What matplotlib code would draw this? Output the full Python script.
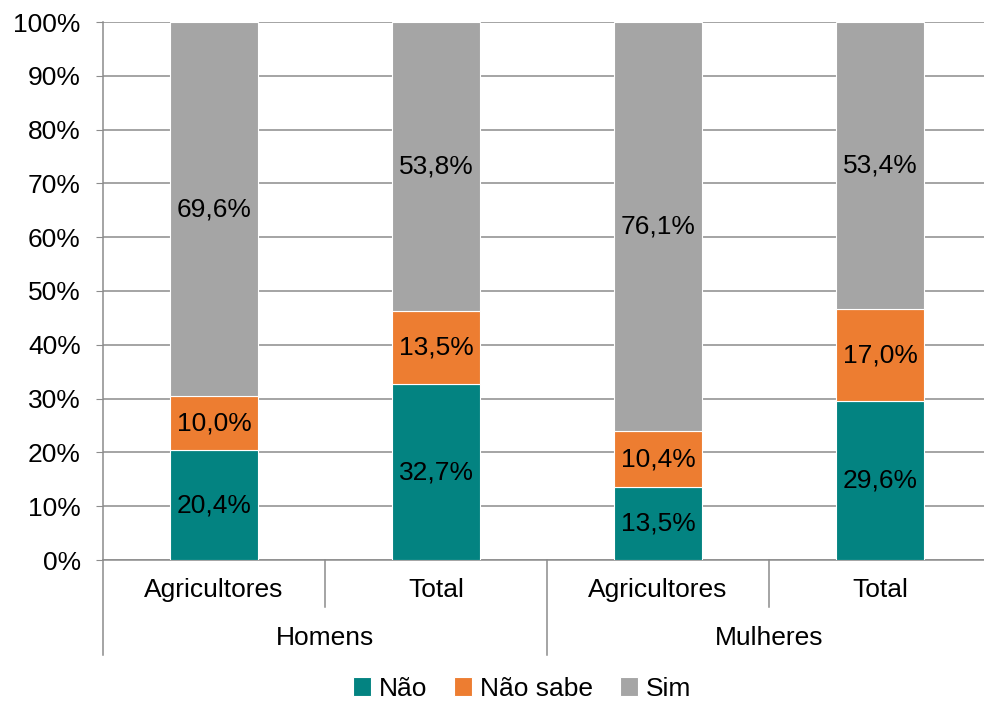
import numpy as np
import matplotlib.pyplot as plt

plt.rcParams['font.family'] = ['Liberation Sans', 'DejaVu Sans']

# Data
categories = ['Agricultores', 'Total', 'Agricultores', 'Total']
groups = ['Homens', 'Mulheres']
nao = [20.4, 32.7, 13.5, 29.6]
nao_sabe = [10.0, 13.5, 10.4, 17.0]
sim = [69.6, 53.8, 76.1, 53.4]
series_names = ['Não', 'Não sabe', 'Sim']
colors = ['#038381', '#ED7D31', '#A5A5A5']
grid_color = '#8C8C8C'
fs = 19

fig = plt.figure(figsize=(9.84, 7.01), dpi=100)
ax = fig.add_axes([103 / 984, 141 / 701, 888 / 984, 538 / 701])

x = np.arange(len(categories))
width = 0.4
bottom = np.zeros(len(categories))
for vals, name, col in zip([nao, nao_sabe, sim], series_names, colors):
    vals = np.array(vals)
    ax.bar(x, vals, width, bottom=bottom, color=col, edgecolor='white',
           linewidth=0.8, label=name, zorder=3)
    for xi, b, v in zip(x, bottom, vals):
        ax.text(xi, b + v / 2, f'{v:.1f}%'.replace('.', ','), ha='center',
                va='center', fontsize=fs, color='black', zorder=4)
    bottom += vals

ax.set_xlim(-0.5, 3.5)
ax.set_ylim(0, 100)
ax.set_yticks(np.arange(0, 101, 10))
ax.set_yticklabels([f'{v}%' for v in range(0, 101, 10)], fontsize=fs)
ax.yaxis.grid(True, color=grid_color, linewidth=1.1, zorder=0)
ax.tick_params(axis='y', length=5, color=grid_color, pad=11)
ax.set_xticks([])
for s in ['top', 'right']:
    ax.spines[s].set_visible(False)
for s in ['left', 'bottom']:
    ax.spines[s].set_color(grid_color)
    ax.spines[s].set_linewidth(1.1)

# Multi-level category axis
trans = ax.get_xaxis_transform()
for xi, cat in zip(x, categories):
    ax.text(xi, -0.055, cat, transform=trans, ha='center', va='center', fontsize=fs)
for gi, g in enumerate(groups):
    ax.text(gi * 2 + 0.5, -0.145, g, transform=trans, ha='center', va='center', fontsize=fs)
for sx in [0.5, 2.5]:
    ax.plot([sx, sx], [0, -0.088], transform=trans, color=grid_color,
            linewidth=1.1, clip_on=False)
for sx in [-0.5, 1.5, 3.5]:
    ax.plot([sx, sx], [0, -0.177], transform=trans, color=grid_color,
            linewidth=1.1, clip_on=False)

ax.legend(loc='center', bbox_to_anchor=(522 / 984, 12.5 / 701),
          bbox_transform=fig.transFigure, ncol=3, frameon=False, fontsize=fs,
          handlelength=0.7, handleheight=0.7, handletextpad=0.3, columnspacing=1.0,
          borderaxespad=0, borderpad=0.2)

fig.savefig('out.png', dpi=100)
